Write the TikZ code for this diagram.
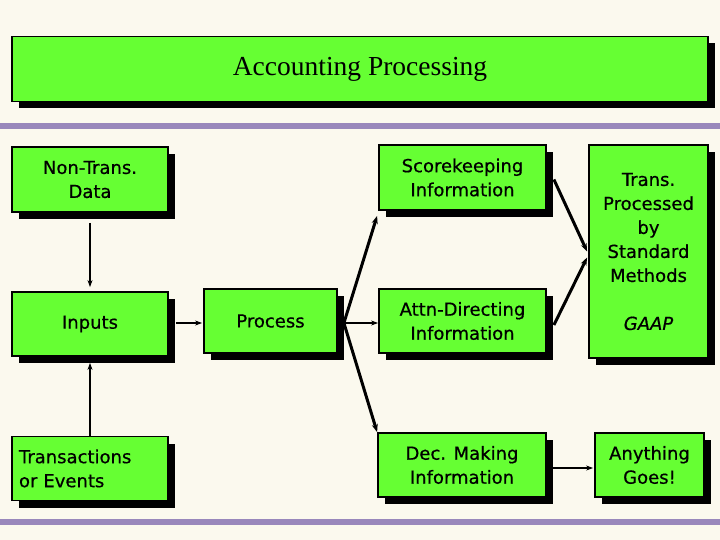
\documentclass[tikz,border=0pt]{standalone}
\usepackage{fontspec}
\setmainfont[FakeBold=0.6]{DejaVu Sans}
\newfontfamily\titlefont{Liberation Serif}
\usetikzlibrary{shadows,arrows.meta,calc}
\definecolor{bg}{RGB}{251,249,238}
\definecolor{boxgreen}{RGB}{102,255,51}
\definecolor{barpurple}{RGB}{153,136,187}
\tikzset{
  gbox/.style={draw=black, line width=1.8pt, fill=boxgreen, inner sep=2pt,
    align=center, font=\fontsize{18}{24}\selectfont,
    drop shadow={shadow xshift=7pt, shadow yshift=-7pt, opacity=1, fill=black}},
  bar/.style={barpurple, line width=6pt},
  thinarrow/.style={line width=1.3pt, -{Stealth[length=7pt,width=5pt]}},
  thickarrow/.style={line width=3pt, -{Stealth[length=8pt,width=6pt]}},
  medarrow/.style={line width=2.2pt, -{Stealth[length=7pt,width=5pt]}}
}
\begin{document}
\begin{tikzpicture}[x=1pt,y=-1pt]
\fill[bg] (0,0) rectangle (720,540);
\useasboundingbox (0,0) rectangle (720,540);
\draw[bar] (0,126) -- (720,126);
\draw[bar] (0,522) -- (720,522);
\node[gbox, minimum width=696pt, minimum height=65pt, font=\titlefont\fontsize{27.5}{30}\selectfont] (title) at (360,69) {\raisebox{3pt}{Accounting Processing}};
\node[gbox, minimum width=156pt, minimum height=65pt] (nontrans) at (90,179.5) {Non-Trans.\\Data};
\node[gbox, minimum width=156pt, minimum height=64pt] (inputs) at (90,324) {Inputs};
\node[gbox, minimum width=156pt, minimum height=64pt, align=left, text width=142pt] (trans) at (90,468.5) {Transactions\\or Events};
\node[gbox, minimum width=133pt, minimum height=64pt] (process) at (270.5,321) {Process};
\node[gbox, minimum width=167pt, minimum height=65pt] (score) at (462.5,177.5) {Scorekeeping\\Information};
\node[gbox, minimum width=167pt, minimum height=64pt] (attn) at (462.5,321) {Attn-Directing\\Information};
\node[gbox, minimum width=168pt, minimum height=64pt] (dec) at (462,465) {Dec. Making\\Information};
\node[gbox, minimum width=119pt, minimum height=213pt] (gaap) at (648.5,251.5) {Trans.\\Processed\\by\\Standard\\Methods\\[24pt]\itshape GAAP};
\node[gbox, minimum width=109pt, minimum height=64pt] (any) at (649.5,465) {Anything\\Goes!};
% connectors
\draw[thinarrow] ([yshift=-10pt]nontrans.south) -- ([yshift=4pt]inputs.north);
\draw[thinarrow] (trans.north) -- ([yshift=-6pt]inputs.south);
\draw[medarrow] ([xshift=7pt,yshift=1pt]inputs.east) -- ([xshift=-1pt,yshift=-2pt]process.west);
\coordinate (fan) at ([xshift=6pt,yshift=-2pt]process.east);
\draw[thickarrow] (fan) -- ([xshift=-1pt,yshift=-5pt]score.south west);
\draw[medarrow] (fan) -- ([yshift=-2pt]attn.west);
\draw[thickarrow] (fan) -- (dec.north west);
\draw[thickarrow] ([xshift=7pt,yshift=-2pt]score.east) -- ([xshift=-1pt]gaap.west);
\draw[thickarrow] ([xshift=7pt,yshift=-4pt]attn.east) -- ([xshift=-1pt,yshift=-6pt]gaap.west);
\draw[medarrow] ([xshift=6pt,yshift=-3pt]dec.east) -- ([xshift=-1pt,yshift=-3pt]any.west);
\end{tikzpicture}
\end{document}
